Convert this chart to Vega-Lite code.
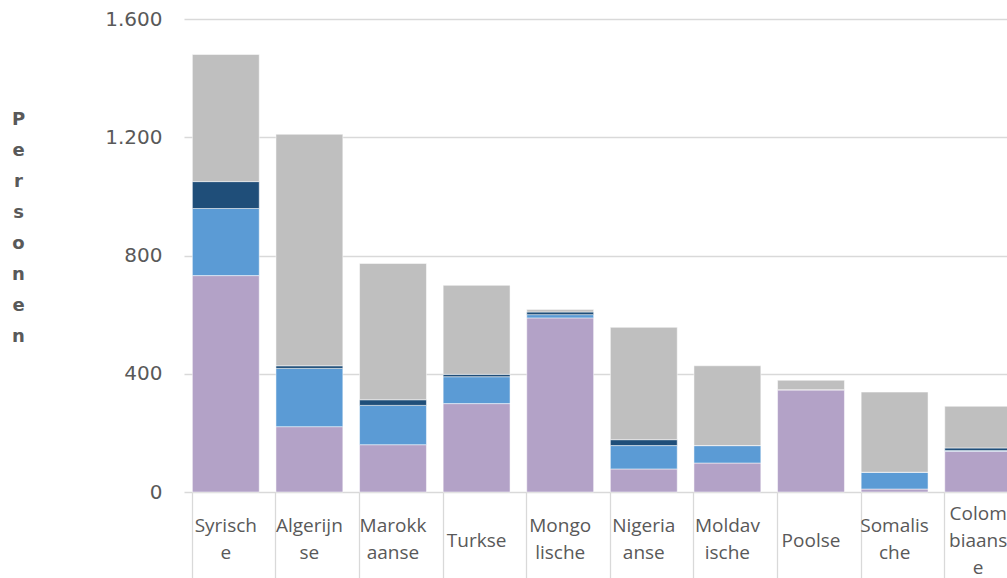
{
  "$schema": "https://vega.github.io/schema/vega-lite/v6.json",
  "autosize": {"type": "none"},
  "padding": {"left": 184, "top": 19, "right": 0, "bottom": 86},
  "width": 823,
  "height": 473,
  "background": "white",
  "config": {"view": {"stroke": null}},
  "data": {
    "values": [
      {"land": "Syrische", "reeks": "Reeks 1", "aantal": 732},
      {"land": "Syrische", "reeks": "Reeks 2", "aantal": 227},
      {"land": "Syrische", "reeks": "Reeks 3", "aantal": 91},
      {"land": "Syrische", "reeks": "Reeks 4", "aantal": 430},
      {"land": "Algerijnse", "reeks": "Reeks 1", "aantal": 221},
      {"land": "Algerijnse", "reeks": "Reeks 2", "aantal": 197},
      {"land": "Algerijnse", "reeks": "Reeks 3", "aantal": 9},
      {"land": "Algerijnse", "reeks": "Reeks 4", "aantal": 783},
      {"land": "Marokkaanse", "reeks": "Reeks 1", "aantal": 160},
      {"land": "Marokkaanse", "reeks": "Reeks 2", "aantal": 133},
      {"land": "Marokkaanse", "reeks": "Reeks 3", "aantal": 19},
      {"land": "Marokkaanse", "reeks": "Reeks 4", "aantal": 461},
      {"land": "Turkse", "reeks": "Reeks 1", "aantal": 299},
      {"land": "Turkse", "reeks": "Reeks 2", "aantal": 91},
      {"land": "Turkse", "reeks": "Reeks 3", "aantal": 8},
      {"land": "Turkse", "reeks": "Reeks 4", "aantal": 301},
      {"land": "Mongolische", "reeks": "Reeks 1", "aantal": 589},
      {"land": "Mongolische", "reeks": "Reeks 2", "aantal": 11},
      {"land": "Mongolische", "reeks": "Reeks 3", "aantal": 9},
      {"land": "Mongolische", "reeks": "Reeks 4", "aantal": 8},
      {"land": "Nigeriaanse", "reeks": "Reeks 1", "aantal": 78},
      {"land": "Nigeriaanse", "reeks": "Reeks 2", "aantal": 79},
      {"land": "Nigeriaanse", "reeks": "Reeks 3", "aantal": 20},
      {"land": "Nigeriaanse", "reeks": "Reeks 4", "aantal": 380},
      {"land": "Moldavische", "reeks": "Reeks 1", "aantal": 98},
      {"land": "Moldavische", "reeks": "Reeks 2", "aantal": 59},
      {"land": "Moldavische", "reeks": "Reeks 3", "aantal": 0},
      {"land": "Moldavische", "reeks": "Reeks 4", "aantal": 270},
      {"land": "Poolse", "reeks": "Reeks 1", "aantal": 346},
      {"land": "Poolse", "reeks": "Reeks 2", "aantal": 0},
      {"land": "Poolse", "reeks": "Reeks 3", "aantal": 0},
      {"land": "Poolse", "reeks": "Reeks 4", "aantal": 32},
      {"land": "Somalische", "reeks": "Reeks 1", "aantal": 10},
      {"land": "Somalische", "reeks": "Reeks 2", "aantal": 57},
      {"land": "Somalische", "reeks": "Reeks 3", "aantal": 0},
      {"land": "Somalische", "reeks": "Reeks 4", "aantal": 271},
      {"land": "Colombiaanse", "reeks": "Reeks 1", "aantal": 138},
      {"land": "Colombiaanse", "reeks": "Reeks 2", "aantal": 2},
      {"land": "Colombiaanse", "reeks": "Reeks 3", "aantal": 9},
      {"land": "Colombiaanse", "reeks": "Reeks 4", "aantal": 141}
    ]
  },
  "mark": {"type": "bar", "stroke": "white", "strokeWidth": 0.5},
  "encoding": {
    "x": {
      "field": "land",
      "type": "nominal",
      "sort": null,
      "scale": {"range": [0, 836], "paddingInner": 0.2, "paddingOuter": 0.1},
      "axis": {
        "title": null,
        "bandPosition": 0,
        "tickSize": 86,
        "tickColor": "#D9D9D9",
        "tickWidth": 1.3,
        "domain": false,
        "labelAngle": 0,
        "labelPadding": {
          "condition": [
            {"test": "datum.value === 'Turkse' || datum.value === 'Poolse'", "value": -38},
            {"test": "datum.value === 'Colombiaanse'", "value": -65}
          ],
          "value": -53
        },
        "labelBaseline": "middle",
        "labelAlign": "center",
        "labelFont": "Open Sans",
        "labelFontSize": 19,
        "labelColor": "#595959",
        "labelLineHeight": 27,
        "labelBound": false,
        "labelOverlap": false,
        "labelFlush": false,
        "labelLimit": 0,
        "labelExpr": "{'Syrische': ['Syrisch', 'e'], 'Algerijnse': ['Algerijn', 'se'], 'Marokkaanse': ['Marokk', 'aanse'], 'Turkse': 'Turkse', 'Mongolische': ['Mongo', 'lische'], 'Nigeriaanse': ['Nigeria', 'anse'], 'Moldavische': ['Moldav', 'ische'], 'Poolse': 'Poolse', 'Somalische': ['Somalis', 'che'], 'Colombiaanse': ['Colom', 'biaans', 'e']}[datum.value]"
      }
    },
    "y": {
      "field": "aantal",
      "type": "quantitative",
      "stack": "zero",
      "scale": {"domain": [0, 1600], "nice": false},
      "axis": {
        "values": [0, 400, 800, 1200, 1600],
        "grid": true,
        "gridColor": "#D9D9D9",
        "gridWidth": 1.3,
        "domain": false,
        "ticks": false,
        "labelPadding": 22,
        "labelFont": "DejaVu Sans",
        "labelFontSize": 20,
        "labelColor": "#595959",
        "labelExpr": "replace(format(datum.value, ','), ',', '.')",
        "title": ["P", "e", "r", "s", "o", "n", "e", "n"],
        "titleAngle": 0,
        "titleFont": "DejaVu Sans",
        "titleFontWeight": "bold",
        "titleFontSize": 18,
        "titleColor": "#595959",
        "titleLineHeight": 31,
        "titleAlign": "center",
        "titleBaseline": "top",
        "titleX": -166,
        "titleY": 91
      }
    },
    "color": {
      "field": "reeks",
      "type": "nominal",
      "scale": {
        "domain": ["Reeks 1", "Reeks 2", "Reeks 3", "Reeks 4"],
        "range": ["#B3A2C7", "#5B9BD5", "#1F4E79", "#BFBFBF"]
      },
      "legend": null
    },
    "order": {"field": "reeks", "sort": "ascending"}
  }
}
